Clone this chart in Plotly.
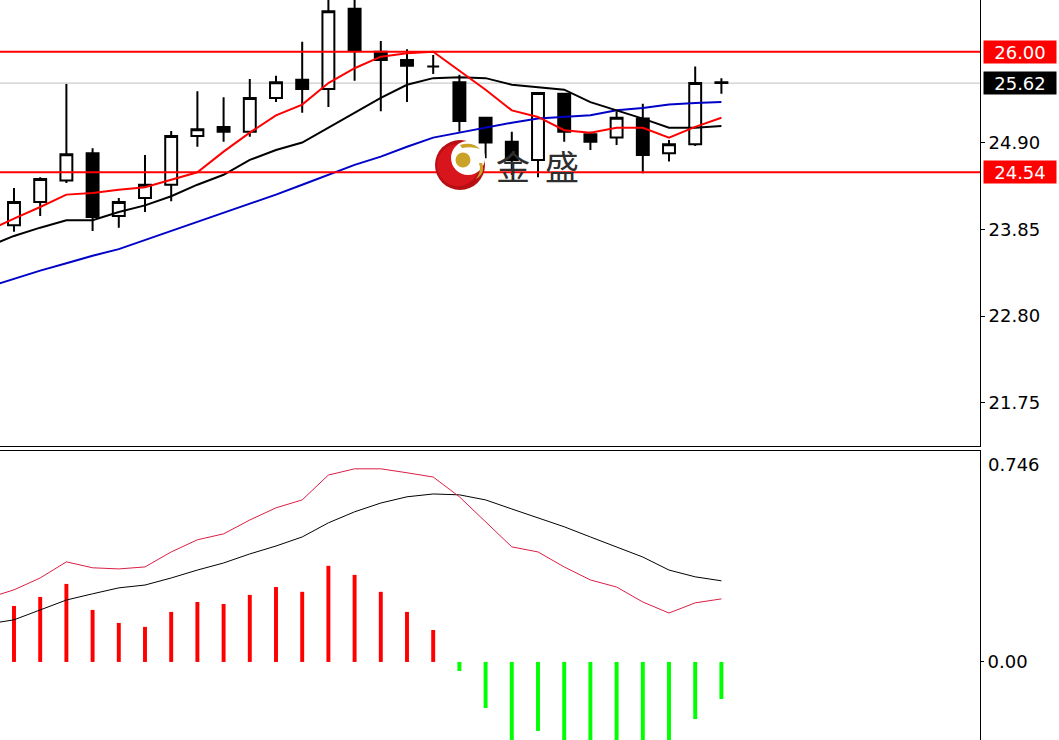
import plotly.graph_objects as go

# ---------------- data ----------------
bar_index = list(range(28))
opens = [23.90, 24.18, 24.44, 24.77, 24.01, 24.23, 24.39, 24.98, 25.09, 25.03,
         25.44, 25.66, 25.55, 26.52, 26.00, 25.90, 25.82, 25.63, 25.20, 24.91,
         24.69, 25.49, 25.00, 24.96, 25.19, 24.77, 24.88, 25.63]
highs = [24.35, 24.48, 25.61, 24.83, 24.23, 24.75, 25.04, 25.52, 25.45, 25.67,
         25.71, 26.12, 26.69, 26.69, 26.13, 26.03, 25.96, 25.72, 25.21, 25.03,
         25.51, 25.50, 25.03, 25.28, 25.37, 24.93, 25.82, 25.68]
lows = [23.82, 24.01, 24.41, 23.83, 23.87, 24.06, 24.19, 24.85, 24.91, 24.97,
        25.39, 25.26, 25.33, 25.65, 25.28, 25.39, 25.73, 25.03, 24.71, 24.51,
        24.48, 24.91, 24.81, 24.87, 24.53, 24.67, 24.86, 25.49]
closes = [24.18, 24.46, 24.76, 24.00, 24.18, 24.39, 24.98, 25.06, 25.03, 25.44,
          25.63, 25.55, 26.49, 26.01, 25.90, 25.83, 25.82, 25.16, 24.90, 24.69,
          25.50, 25.03, 24.91, 25.20, 24.75, 24.88, 25.62, 25.62]

line_index = list(range(-1, 28))
ma_fast = [23.83, 23.98, 24.12, 24.27, 24.29, 24.33, 24.36, 24.45, 24.54, 24.79,
           25.02, 25.23, 25.36, 25.62, 25.80, 25.94, 25.98, 26.00, 25.77, 25.54,
           25.29, 25.21, 25.05, 25.02, 25.08, 25.08, 24.96, 25.09, 25.20]
ma_mid = [23.64, 23.77, 23.87, 23.96, 23.96, 24.06, 24.14, 24.25, 24.39, 24.51,
          24.69, 24.81, 24.90, 25.08, 25.27, 25.44, 25.60, 25.68, 25.69, 25.68,
          25.60, 25.57, 25.54, 25.39, 25.29, 25.19, 25.08, 25.08, 25.10]
ma_slow = [23.15, 23.25, 23.35, 23.44, 23.53, 23.61, 23.72, 23.83, 23.94, 24.05,
           24.16, 24.27, 24.39, 24.51, 24.63, 24.73, 24.85, 24.96, 25.02, 25.08,
           25.14, 25.19, 25.21, 25.23, 25.29, 25.32, 25.36, 25.38, 25.39]

dif = [0.226, 0.255, 0.297, 0.354, 0.333, 0.329, 0.336, 0.389, 0.432, 0.453,
       0.502, 0.545, 0.573, 0.661, 0.683, 0.683, 0.669, 0.654, 0.584, 0.495,
       0.407, 0.389, 0.336, 0.290, 0.265, 0.212, 0.173, 0.209, 0.223]
dea = [0.134, 0.149, 0.184, 0.219, 0.241, 0.262, 0.272, 0.297, 0.325, 0.350,
       0.382, 0.410, 0.442, 0.492, 0.531, 0.562, 0.584, 0.594, 0.591, 0.573,
       0.541, 0.509, 0.478, 0.442, 0.407, 0.371, 0.325, 0.301, 0.287]
hist = [0.198, 0.230, 0.276, 0.184, 0.138, 0.124, 0.177, 0.212, 0.205, 0.237,
        0.265, 0.248, 0.340, 0.308, 0.248, 0.177, 0.113, -0.032, -0.163, -0.283,
        -0.244, -0.283, -0.304, -0.283, -0.318, -0.304, -0.202, -0.131]

price_ticks = [21.75, 22.80, 23.85, 24.90]
level_high = 26.00
level_low = 24.54
last_price = 25.62
macd_top = 0.746

# ---------------- layout geometry ----------------
W, H = 1059, 740
PLOT_R = 980          # right edge of plot area (px)


def X(px):
    return px / PLOT_R


def Y(py):
    return 1 - py / H


fig = go.Figure()

fig.add_trace(go.Candlestick(
    x=bar_index, open=opens, high=highs, low=lows, close=closes,
    increasing=dict(fillcolor="white", line=dict(color="black", width=2)),
    decreasing=dict(fillcolor="black", line=dict(color="black", width=2)),
    whiskerwidth=0, xaxis="x", yaxis="y", showlegend=False, hoverinfo="skip"))

fig.add_trace(go.Scatter(x=line_index, y=ma_slow, mode="lines",
                         line=dict(color="#0000C8", width=2), xaxis="x", yaxis="y",
                         showlegend=False, hoverinfo="skip"))
fig.add_trace(go.Scatter(x=line_index, y=ma_mid, mode="lines",
                         line=dict(color="black", width=2), xaxis="x", yaxis="y",
                         showlegend=False, hoverinfo="skip"))
fig.add_trace(go.Scatter(x=line_index, y=ma_fast, mode="lines",
                         line=dict(color="#FF0000", width=2), xaxis="x", yaxis="y",
                         showlegend=False, hoverinfo="skip"))

fig.add_trace(go.Bar(x=bar_index, y=hist, width=0.15,
                     marker=dict(color=["#FF0000" if v >= 0 else "#00FF00" for v in hist],
                                 line=dict(width=0)),
                     xaxis="x2", yaxis="y2", showlegend=False, hoverinfo="skip"))
fig.add_trace(go.Scatter(x=line_index, y=dea, mode="lines",
                         line=dict(color="black", width=1), xaxis="x2", yaxis="y2",
                         showlegend=False, hoverinfo="skip"))
fig.add_trace(go.Scatter(x=line_index, y=dif, mode="lines",
                         line=dict(color="#DC1E46", width=1), xaxis="x2", yaxis="y2",
                         showlegend=False, hoverinfo="skip"))

xr = [-0.534, 36.87]
font = dict(family="DejaVu Sans", size=18, color="black")

fig.update_layout(
    width=W, height=H,
    margin=dict(l=0, r=W - PLOT_R, t=0, b=0),
    paper_bgcolor="white", plot_bgcolor="white",
    boxgap=0.35,
    font=font,
    hovermode=False,
    xaxis=dict(domain=[0, 1], range=xr, anchor="y", showgrid=False, zeroline=False,
               showticklabels=False, ticks="", showline=True, linecolor="black",
               linewidth=1, rangeslider=dict(visible=False), fixedrange=True),
    yaxis=dict(domain=[1 - 446 / H, 1], range=[21.227, 26.626], side="right",
               showgrid=False, zeroline=False, showline=True, linecolor="black",
               linewidth=1, tickvals=price_ticks,
               ticktext=[f"{v:.2f}" for v in price_ticks],
               ticks="outside", ticklen=4, tickcolor="black", tickfont=font),
    xaxis2=dict(domain=[0, 1], range=xr, anchor="y2", side="top", showgrid=False,
                zeroline=False, showticklabels=False, ticks="", showline=True,
                linecolor="black", linewidth=1, fixedrange=True),
    yaxis2=dict(domain=[0, 1 - 451 / H], range=[-0.276, macd_top], side="right",
                showgrid=False, zeroline=False, showline=True, linecolor="black",
                linewidth=1, tickvals=[0], ticktext=["0.00"], ticks="outside",
                ticklen=3, tickcolor="black", tickfont=font),
)

shapes = []
# price levels
for lv in (level_high, level_low):
    shapes.append(dict(type="line", xref="paper", yref="y", x0=0, x1=1, y0=lv, y1=lv,
                       line=dict(color="#FF0000", width=2), layer="above"))
shapes.append(dict(type="line", xref="paper", yref="y", x0=0, x1=1,
                   y0=last_price, y1=last_price,
                   line=dict(color="#C0C0C0", width=1), layer="below"))

# watermark logo
cx, cy = X(460), Y(165)


def circ(dx0, dy0, r, color):
    return dict(type="circle", xref="paper", yref="paper", xsizemode="pixel",
                ysizemode="pixel", xanchor=cx, yanchor=cy,
                x0=dx0 - r, x1=dx0 + r, y0=dy0 - r, y1=dy0 + r,
                fillcolor=color, line=dict(width=0), layer="above")


shapes.append(circ(0, 0, 25, "#B80F14"))
shapes.append(circ(-2, 0, 21, "#D8141C"))
shapes.append(circ(8, 7, 17, "white"))
shapes.append(circ(3, 5, 7.5, "#C9A227"))
shapes.append(dict(type="path", xref="paper", yref="paper", xsizemode="pixel",
                   ysizemode="pixel", xanchor=cx, yanchor=cy,
                   path="M 0 20 Q 12 24 20 16 Q 12 19 2 17 Z",
                   fillcolor="#C9A227", line=dict(width=0), layer="above"))
shapes.append(dict(type="path", xref="paper", yref="paper", xsizemode="pixel",
                   ysizemode="pixel", xanchor=cx, yanchor=cy,
                   path="M 22 2 Q 26 -8 16 -14 Q 22 -6 19 2 Z",
                   fillcolor="#C9A227", line=dict(width=0), layer="above"))
fig.update_layout(shapes=shapes)

annotations = []
for lv, bg in ((level_high, "#FF0000"), (last_price, "black"), (level_low, "#FF0000")):
    annotations.append(dict(xref="paper", yref="y", x=1, y=lv, xanchor="left",
                            yanchor="middle", xshift=3, text=f"{lv:.2f}",
                            showarrow=False, bgcolor=bg, width=70, height=20,
                            borderpad=1, align="center",
                            font=dict(family="DejaVu Sans", size=18, color="white")))
annotations.append(dict(xref="paper", yref="y2", x=1, y=macd_top, xanchor="left",
                        yanchor="top", xshift=6, yshift=-1, text=f"{macd_top:.3f}",
                        showarrow=False, font=font))
for ch, px in (("金", 513), ("盛", 562)):
    annotations.append(dict(xref="paper", yref="paper", x=X(px), y=Y(165),
                            xanchor="center", yanchor="middle", text=ch,
                            showarrow=False,
                            font=dict(family="Noto Sans CJK SC", size=34,
                                      color="#2E2E2E")))
fig.update_layout(annotations=annotations)

fig.write_html("out.html",
               config={"displayModeBar": False, "staticPlot": True},
               post_script="document.body.style.margin='0';"
                           "document.body.style.overflow='hidden';")
